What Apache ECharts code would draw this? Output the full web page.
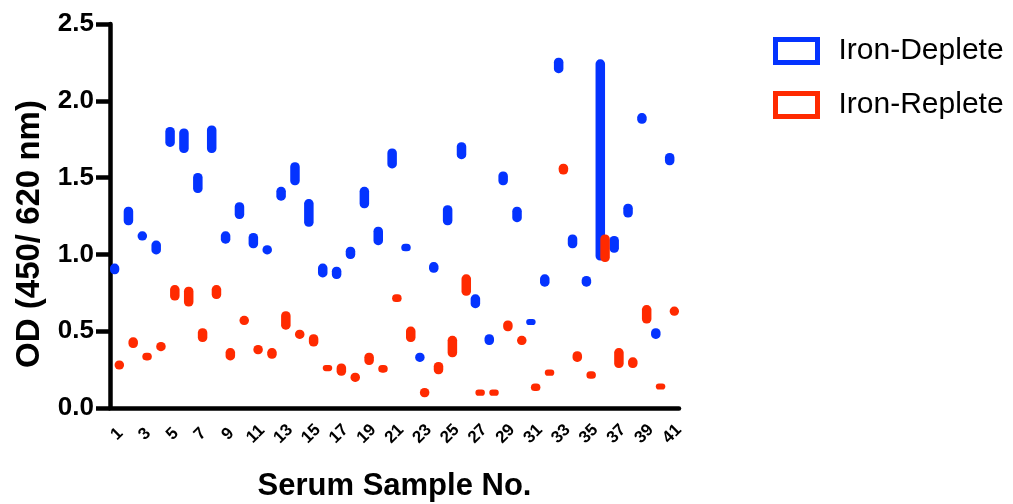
<!DOCTYPE html>
<html>
<head>
<meta charset="utf-8">
<script src="https://cdn.jsdelivr.net/npm/echarts@6/dist/echarts.min.js"></script>
<style>html,body{margin:0;padding:0;background:#fff;}#c{width:1013px;height:504px;}</style>
</head>
<body>
<div id="c"></div>
<script>
const samples = ['1','2','3','4','5','6','7','8','9','10','11','12','13','14','15','16','17','18','19','20','21','22','23','24','25','26','27','28','29','30','31','32','33','34','35','36','37','38','39','40','41'];
const yTicks = [0, 0.5, 1.0, 1.5, 2.0, 2.5];
const depleteLow  = [0.87,1.19,1.09,1.00,1.70,1.66,1.40,1.66,1.07,1.23,1.04,1.00,1.35,1.45,1.18,0.85,0.84,0.97,1.30,1.06,1.56,1.02,0.30,0.88,1.19,1.62,0.65,0.41,1.45,1.21,0.54,0.79,2.18,1.04,0.79,0.96,1.01,1.24,1.85,0.45,1.58];
const depleteHigh = [0.94,1.31,1.15,1.09,1.83,1.82,1.53,1.84,1.15,1.34,1.14,1.06,1.44,1.60,1.36,0.94,0.92,1.05,1.44,1.18,1.69,1.07,0.36,0.95,1.32,1.73,0.74,0.48,1.54,1.31,0.58,0.87,2.28,1.13,0.86,2.27,1.12,1.33,1.92,0.52,1.66];
const repleteLow  = [0.25,0.39,0.31,0.37,0.70,0.66,0.43,0.71,0.31,0.54,0.35,0.32,0.51,0.45,0.40,0.24,0.21,0.17,0.28,0.23,0.69,0.43,0.07,0.22,0.33,0.73,0.08,0.08,0.50,0.41,0.11,0.21,1.52,0.30,0.19,0.95,0.26,0.26,0.55,0.12,0.60];
const repleteHigh = [0.31,0.46,0.36,0.43,0.80,0.79,0.52,0.80,0.39,0.60,0.41,0.39,0.63,0.51,0.48,0.28,0.29,0.23,0.36,0.28,0.74,0.53,0.13,0.30,0.47,0.87,0.12,0.12,0.57,0.47,0.16,0.25,1.59,0.37,0.24,1.13,0.39,0.33,0.67,0.16,0.66];

const BLUE = '#0433ff';
const RED = '#ff2a00';
const FONT = '"Liberation Sans", Arial, Helvetica, sans-serif';

const diff = (hi, lo) => hi.map((v, i) => +(v - lo[i]).toFixed(3));

const chart = echarts.init(document.getElementById('c'), null, {renderer: 'canvas'});
const barBase = {type: 'bar', barWidth: 9.5, barGap: '-50%', itemStyle: {color: 'transparent'}, silent: true, emphasis: {disabled: true}};
const barRange = {type: 'bar', barWidth: 9.5, barGap: '-50%', emphasis: {disabled: true}};
chart.setOption({
  animation: false,
  grid: {left: 110, right: 334, top: 24, bottom: 96, containLabel: false, outerBoundsMode: 'none'},
  legend: {
    orient: 'vertical', left: 773, top: 36, padding: 0, itemWidth: 42, itemHeight: 23, itemGap: 24,
    selectedMode: false, icon: 'rect',
    textStyle: {fontFamily: FONT, fontSize: 30, color: '#000', lineHeight: 30, padding: [0, 0, 0, 16]},
    data: [
      {name: 'Iron-Deplete', itemStyle: {color: '#fff', borderColor: BLUE, borderWidth: 5}},
      {name: 'Iron-Replete', itemStyle: {color: '#fff', borderColor: RED, borderWidth: 5}}
    ]
  },
  xAxis: {
    type: 'category', data: samples, boundaryGap: true,
    name: 'Serum Sample No.', nameLocation: 'middle', nameGap: 63,
    nameTextStyle: {fontFamily: FONT, fontSize: 31, fontWeight: 'bold', color: '#000'},
    axisLine: {lineStyle: {color: '#000', width: 4.5}},
    axisTick: {interval: 1, alignWithLabel: true, length: 10, lineStyle: {color: '#000', width: 4.5}},
    axisLabel: {interval: 1, rotate: 45, align: 'center', verticalAlign: 'middle', margin: 26,
      fontFamily: FONT, fontSize: 17, fontWeight: 'bold', color: '#000'},
    splitLine: {show: false}
  },
  yAxis: {
    type: 'value', min: yTicks[0], max: yTicks[yTicks.length - 1], interval: 0.5,
    name: 'OD (450/ 620 nm)', nameLocation: 'middle', nameGap: 64,
    nameTextStyle: {fontFamily: FONT, fontSize: 33, fontWeight: 'bold', color: '#000', padding: [0, 36, 0, 0]},
    axisLine: {show: true, lineStyle: {color: '#000', width: 4.5}},
    axisTick: {show: true, length: 14, lineStyle: {color: '#000', width: 4.5}},
    axisLabel: {margin: 16, fontFamily: FONT, fontSize: 26, fontWeight: 'bold', color: '#000',
      formatter: v => v.toFixed(1)},
    splitLine: {show: false}
  },
  series: [
    Object.assign({}, barBase, {name: 'dBase', stack: 'd', data: depleteLow}),
    Object.assign({}, barRange, {name: 'Iron-Deplete', stack: 'd', data: diff(depleteHigh, depleteLow),
      itemStyle: {color: BLUE, borderRadius: 4.5}}),
    Object.assign({}, barBase, {name: 'rBase', stack: 'r', data: repleteLow}),
    Object.assign({}, barRange, {name: 'Iron-Replete', stack: 'r', data: diff(repleteHigh, repleteLow),
      itemStyle: {color: RED, borderRadius: 4.5}})
  ]
});
</script>
</body>
</html>
